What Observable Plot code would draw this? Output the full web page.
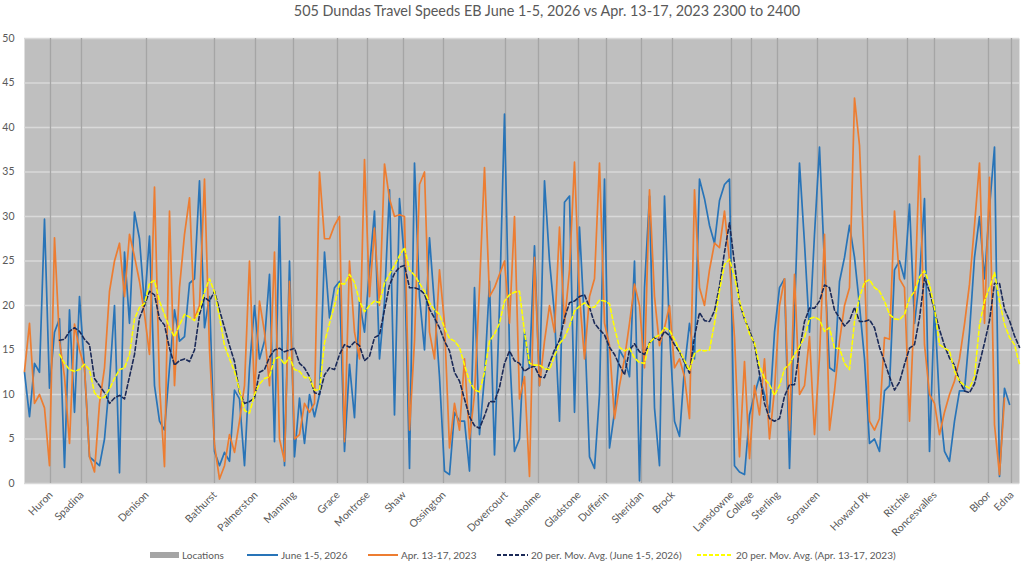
<!DOCTYPE html>
<html>
<head>
<meta charset="utf-8">
<script src="https://cdn.jsdelivr.net/npm/d3@7"></script>
<script src="https://cdn.jsdelivr.net/npm/@observablehq/plot@0.6"></script>
<style>
  body { margin: 0; background: #ffffff; font-family: Lato, "Open Sans", sans-serif; }
  #wrap { position: relative; width: 1024px; height: 565px; overflow: hidden; background: #ffffff; }
  #title { position: absolute; top: 2px; left: 0; width: 1094px; text-align: center; font-size: 14.4px; line-height: 18px; color: #595959; }
  #chart { position: absolute; top: 0; left: 0; }
  .leg { position: absolute; top: 548px; height: 14px; display: flex; align-items: center; font-size: 10px; color: #595959; white-space: nowrap; }
  .leg svg { margin-right: 3px; }
</style>
</head>
<body>
<div id="wrap">
  <div id="chart"></div>
  <div id="title"></div>
</div>
<script>
const titleText = "505 Dundas Travel Speeds EB June 1-5, 2026 vs Apr. 13-17, 2023 2300 to 2400";

const locations = ["Huron","Spadina","Denison","Bathurst","Palmerston","Manning","Grace","Montrose","Shaw","Ossington","Dovercourt","Rusholme","Gladstone","Dufferin","Sheridan","Brock","Lansdowne","College","Sterling","Sorauren","Howard Pk","Ritchie","Roncesvalles","Bloor","Edna"];
const locationPos = [5.2,11.4,24.4,38,46.2,53.8,62.6,68.6,75.8,83.8,96.2,102.8,110.8,116.4,123.4,129.6,141.4,145.4,150.6,158.6,168.6,176.6,182,192.8,197.4];

const yTicks = [0,5,10,15,20,25,30,35,40,45,50];

const june2026 = [
12.5,7.5,13.5,12.5,29.7,10.7,17,18.5,1.8,19.5,
8,21,13,3,2.5,2,5,11.5,20,1.2,
26,18,30.5,27.5,20,27.8,11,7,6,13,
19.5,16,16.5,22.5,23,34,17.5,21,3.6,2,
3.5,2.5,10.5,9.5,2,13,20,14,16,23.5,
4.7,30,2,25,3,9.6,4.5,10,7.5,10,
26,18.6,22,22.7,3.6,13.4,7.4,20.5,17,24,
30.6,14,20.5,33,7.7,32,25,1.7,36,21,
15,27.6,20,12,1.4,1,8,7,7,1.4,
22,5.5,12,22.7,3.2,20,41.5,15,3.6,5,
17,13,26.7,11,34,25,19,7,31.6,32.3,
8,28.8,18,3,1.7,10,34.2,4,8,15,
14,12,25,0.3,22,32.3,8.5,2,32.3,17,
7,5.3,13,18,14,34.2,32,29,27,31.8,
33.6,34.2,2,1.3,1,7.7,10,12,10,8,
17,22,23,1.7,19,36,27,17,28,37.8,
24.6,13,12.6,22.7,25.4,29,25.4,20,14,4.5,
5,3.6,10.4,11,24,25,23,31.4,18,23,
32,3.6,20,9,3.6,2.5,7,10.4,10.4,17,
25.4,30,23,31,37.8,0.8,10.7,8.9
];

const apr2023 = [
12.6,18,9,10,8.5,2,27.6,16,12,4.5,
17.9,15,13,3,1.3,9,13,21.6,25,27,
21,28,25.5,22.7,19,14.5,33.3,11,1.9,30.6,
11,22,28,32.1,18.5,20,34.2,15,4.3,0.5,
2,5.5,3.5,7,11,25,10,20.5,17,11,
26,5,2.5,22.7,5,5.5,9,8,9,35,
27.5,27.5,29,30,4.7,25,17,14,36.4,21,
28.7,20,35.9,32,30,30.2,30,6,16,33.6,
35,17,14,24,18,4,9,6,14,5,
10,22,35.5,21,22,23.5,25,18,30,9.5,
12,0.8,25.4,11,16,20,17,28.8,18,24,
36.1,21,14,21,23,36,18,15.5,7.3,11,
14,18,22.4,20,13,33,21,15.5,17.5,20,
13,14,12,7.3,33,22,20,24,27,26.5,
30.6,25,16.4,3,13.7,2.8,11,7.7,14,5,
10.5,20,23,6,23.5,10,11,16.5,5.5,14.2,
28,6,10.4,16,20,22,43.3,38,24.2,7,
6,7.3,16.4,16.2,30.6,23,22,7,20,36.8,
15.6,10,9,5.5,8,10,11.5,14,17.9,22.4,
29,36,18,34.4,6.6,1,9.6
];

const maJune2026 = [
null,null,null,null,null,null,null,16.1,16.2,17.1,
17.5,17.1,16.2,15.6,11.8,11,10.2,9,9.6,9.9,
9.5,12,14.5,18.6,20,21.6,21.2,18.5,17.8,15.2,
13.3,13.8,14,13.7,15,19,20.9,20.5,21.6,19.5,
17.5,15.5,13.7,10.2,9,9.2,9.6,12.5,12.8,14.2,
15,15.2,14.8,15,15.2,13.5,13,12,10.2,10,
12.2,13,12.8,14.5,15.6,15.3,15.9,15.5,13.8,14.3,
16.4,16.7,19.5,22.3,23.6,24.3,24.5,22,22,21.8,
21.3,19.6,18.6,17.5,16,14.9,12.5,11.5,9.5,7.5,
6.5,6.2,7.6,9.2,9.2,10.8,13.5,14.9,13.8,13.5,
12.6,13,13.2,12,11.9,13.5,15,16.1,18.6,20.3,
20.5,21,21.2,19.8,18,17.3,16.7,15.3,14.5,13.3,
12.2,15,15.7,14.8,14.5,15.8,16.4,16.1,17.1,16.6,
15.6,14.8,13.6,12.4,16.5,19.2,18.3,18.2,19.4,22.2,
26,29.3,24.7,20.3,18.5,17.2,15.6,12.3,9,7.3,
7,7.3,9.8,11.1,11.1,15,18.2,19.7,19.7,20.5,
22.3,22,19.5,18.6,17.7,18.3,19.8,18.2,18.2,18.4,
17.5,15.3,13.7,12,10.5,11.4,13.4,15.2,15.6,18.6,
23.1,21.6,19.4,17.3,15.5,14.1,13.3,11.5,10.4,10.2,
11.2,13.5,15.8,18.3,22.5,22.5,19.6,18.3,16.6,15.3
];

const maApr2023 = [
null,null,null,null,null,null,null,14.5,13.5,12.8,
12.6,12.8,13.4,12.8,10.2,9.6,9.7,10.6,11.8,12.8,
13,14.5,18.5,19.8,20.2,22.5,22.8,20.5,19,17.5,
16.5,17.8,19,18.7,18.3,19.5,21.5,23,21.5,18.7,
15.5,14,12.6,10.5,8.2,7.9,10,11.2,11.8,12,
14,14.2,13.4,14.2,12.8,12.6,11.9,11.9,10.5,10.5,
15.8,18,20,22.5,22.4,23.5,22.6,20.5,19.3,20,
20.5,20.3,22.5,23.5,24.5,25.6,26.5,24,23.4,22.5,
21.6,20.3,19.5,19,17.5,16.3,16,15.3,13.3,11.5,
10.5,10.3,12.5,16,16.8,18,20.5,21.2,21.5,21.6,
17,13.5,13.3,13.3,12.9,12.8,14.3,15.7,16.4,17.7,
19.4,19.9,20.3,19.8,19.8,20.6,20.5,20.2,17.5,15.3,
14.9,15.2,14.1,13.6,13.5,15.8,16.4,16.7,17.5,17.2,
16.2,15,13.8,12.7,14.6,15,14.9,15,18,21.7,
24.6,25.2,23.2,20.5,18.7,16.8,15.8,13.2,11.8,11.1,
9.9,11,12.9,13.4,14.5,15.4,16.4,18.5,18.7,18.4,
17.1,17.5,15.2,15.2,13.5,12.8,18.2,20.9,22.6,22.9,
22,21.6,20.5,19,18.5,18.4,19,20.8,21.6,23.2,
23.9,22.4,19.7,15.6,15.2,14.9,12.6,11.5,11,10.7,
12,17.8,20.5,22,23.7,20.5,17.9,16.4,15.6,13.4
];

const seriesNames = ["Locations","June 1-5, 2026","Apr. 13-17, 2023","20 per. Mov. Avg. (June 1-5, 2026)","20 per. Mov. Avg. (Apr. 13-17, 2023)"];
const seriesColors = ["#a5a5a5","#2874b8","#ed7d31","#1b2a58","#ffff00"];

const n = Math.max(june2026.length, apr2023.length, maJune2026.length, maApr2023.length);
const rows = d3.range(n).map(i => ({
  i,
  june: june2026[i] ?? null,
  apr: apr2023[i] ?? null,
  maJune: maJune2026[i] ?? null,
  maApr: maApr2023[i] ?? null
}));
const locRows = locations.map((name, k) => ({name, pos: locationPos[k]}));

const chart = Plot.plot({
  width: 1024,
  height: 565,
  marginLeft: 24,
  marginRight: 5,
  marginTop: 38,
  marginBottom: 82,
  style: {fontFamily: "Lato, 'Open Sans', sans-serif", fontSize: "10px", color: "#595959", background: "transparent", overflow: "visible"},
  x: {domain: [0, n - 1], axis: null},
  y: {domain: [0, 50]},
  marks: [
    Plot.frame({fill: "#bfbfbf"}),
    Plot.gridY(yTicks, {stroke: "#d9d9d9", strokeOpacity: 1, strokeWidth: 1.3}),
    Plot.ruleX(locRows, {x: "pos", stroke: seriesColors[0], strokeWidth: 1.3}),
    Plot.line(rows, {x: "i", y: "june", stroke: seriesColors[1], strokeWidth: 1.7, strokeLinejoin: "round"}),
    Plot.line(rows, {x: "i", y: "apr", stroke: seriesColors[2], strokeWidth: 1.7, strokeLinejoin: "round"}),
    Plot.line(rows, {x: "i", y: "maJune", stroke: seriesColors[3], strokeWidth: 1.6, strokeDasharray: "4,2.5"}),
    Plot.line(rows, {x: "i", y: "maApr", stroke: seriesColors[4], strokeWidth: 1.6, strokeDasharray: "4,2.5"}),
    Plot.axisY(yTicks, {tickSize: 0, tickPadding: 10, fontSize: 10.5, fill: "#595959"}),
    Plot.text(locRows, {x: "pos", frameAnchor: "bottom", text: "name", rotate: -45, textAnchor: "end", dx: 3, dy: 12, fontSize: 10.5, fill: "#595959"})
  ]
});
document.getElementById("chart").appendChild(chart);
document.getElementById("title").textContent = titleText;

// legend
const wrap = document.getElementById("wrap");
const legLeft = [150, 247, 368, 497, 697];
const legSwW = [29, 31, 30, 31, 36];
seriesNames.forEach((name, k) => {
  const d = document.createElement("div");
  d.className = "leg";
  d.style.left = legLeft[k] + "px";
  const w = legSwW[k];
  let sw;
  if (k === 0) {
    sw = `<svg width="${w}" height="8"><rect x="0" y="1" width="${w}" height="6" fill="${seriesColors[k]}"/></svg>`;
  } else {
    const dash = k >= 3 ? ' stroke-dasharray="4,2"' : '';
    sw = `<svg width="${w}" height="8"><line x1="0" x2="${w}" y1="4" y2="4" stroke="${seriesColors[k]}" stroke-width="2"${dash}/></svg>`;
  }
  d.innerHTML = sw + `<span>${name}</span>`;
  wrap.appendChild(d);
});
</script>
</body>
</html>
